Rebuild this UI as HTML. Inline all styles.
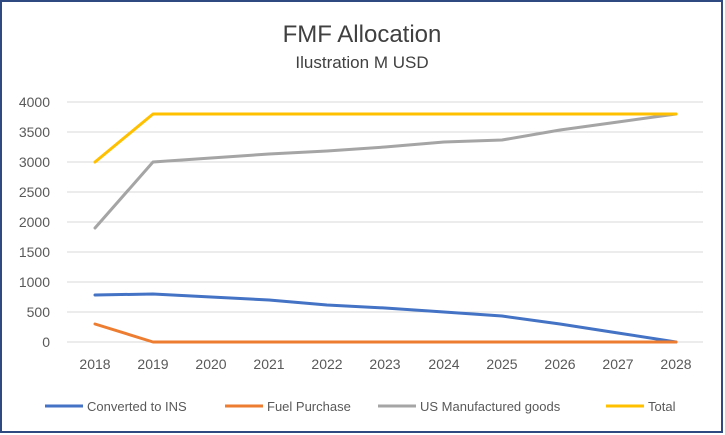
<!DOCTYPE html>
<html><head><style>
body{margin:0;background:#fff}
svg{display:block;font-family:"Liberation Sans",sans-serif}
</style></head><body>
<svg width="725" height="435" xmlns="http://www.w3.org/2000/svg">
<rect x="1" y="1" width="721" height="431" fill="#fff" stroke="#2f4a80" stroke-width="2"/>
<text x="362" y="42" font-size="24" fill="#404040" text-anchor="middle">FMF Allocation</text>
<text x="362" y="68" font-size="17" fill="#404040" text-anchor="middle">Ilustration M USD</text>
<g stroke="#d9d9d9" stroke-width="1">
<line x1="67" x2="703" y1="102" y2="102"/><line x1="67" x2="703" y1="132" y2="132"/>
<line x1="67" x2="703" y1="162" y2="162"/><line x1="67" x2="703" y1="192" y2="192"/>
<line x1="67" x2="703" y1="222" y2="222"/><line x1="67" x2="703" y1="252" y2="252"/>
<line x1="67" x2="703" y1="282" y2="282"/><line x1="67" x2="703" y1="312" y2="312"/>
<line x1="67" x2="703" y1="342" y2="342"/>
</g>
<g font-size="14" fill="#595959" text-anchor="end">
<text x="50" y="107">4000</text><text x="50" y="137">3500</text><text x="50" y="167">3000</text>
<text x="50" y="197">2500</text><text x="50" y="227">2000</text><text x="50" y="257">1500</text>
<text x="50" y="287">1000</text><text x="50" y="317">500</text><text x="50" y="347">0</text>
</g>
<g font-size="14" fill="#595959" text-anchor="middle">
<text x="95" y="369">2018</text><text x="153" y="369">2019</text><text x="211" y="369">2020</text>
<text x="269" y="369">2021</text><text x="327" y="369">2022</text><text x="385" y="369">2023</text>
<text x="444" y="369">2024</text><text x="502" y="369">2025</text><text x="560" y="369">2026</text>
<text x="618" y="369">2027</text><text x="676" y="369">2028</text>
</g>
<g fill="none" stroke-width="3" stroke-linejoin="round" stroke-linecap="round">
<polyline stroke="#a5a5a5" points="95,228 153,162 211,158 269,154 327,151 385,147 444,142 502,140 560,130 618,122 676,114"/>
<polyline stroke="#ffc000" points="95,162 153,114 211,114 269,114 327,114 385,114 444,114 502,114 560,114 618,114 676,114"/>
<polyline stroke="#4472c4" points="95,295 153,294 211,297 269,300 327,305 385,308 444,312 502,316 560,324 618,333 676,342"/>
<polyline stroke="#ed7d31" points="95,324 153,342 211,342 269,342 327,342 385,342 444,342 502,342 560,342 618,342 676,342"/>
</g>
<g font-size="13" fill="#595959">
<line x1="45" x2="83" y1="406" y2="406" stroke="#4472c4" stroke-width="3"/><text x="87" y="411">Converted to INS</text>
<line x1="225" x2="263" y1="406" y2="406" stroke="#ed7d31" stroke-width="3"/><text x="267" y="411">Fuel Purchase</text>
<line x1="378" x2="416" y1="406" y2="406" stroke="#a5a5a5" stroke-width="3"/><text x="420" y="411">US Manufactured goods</text>
<line x1="606" x2="644" y1="406" y2="406" stroke="#ffc000" stroke-width="3"/><text x="648" y="411">Total</text>
</g>
</svg>
</body></html>
